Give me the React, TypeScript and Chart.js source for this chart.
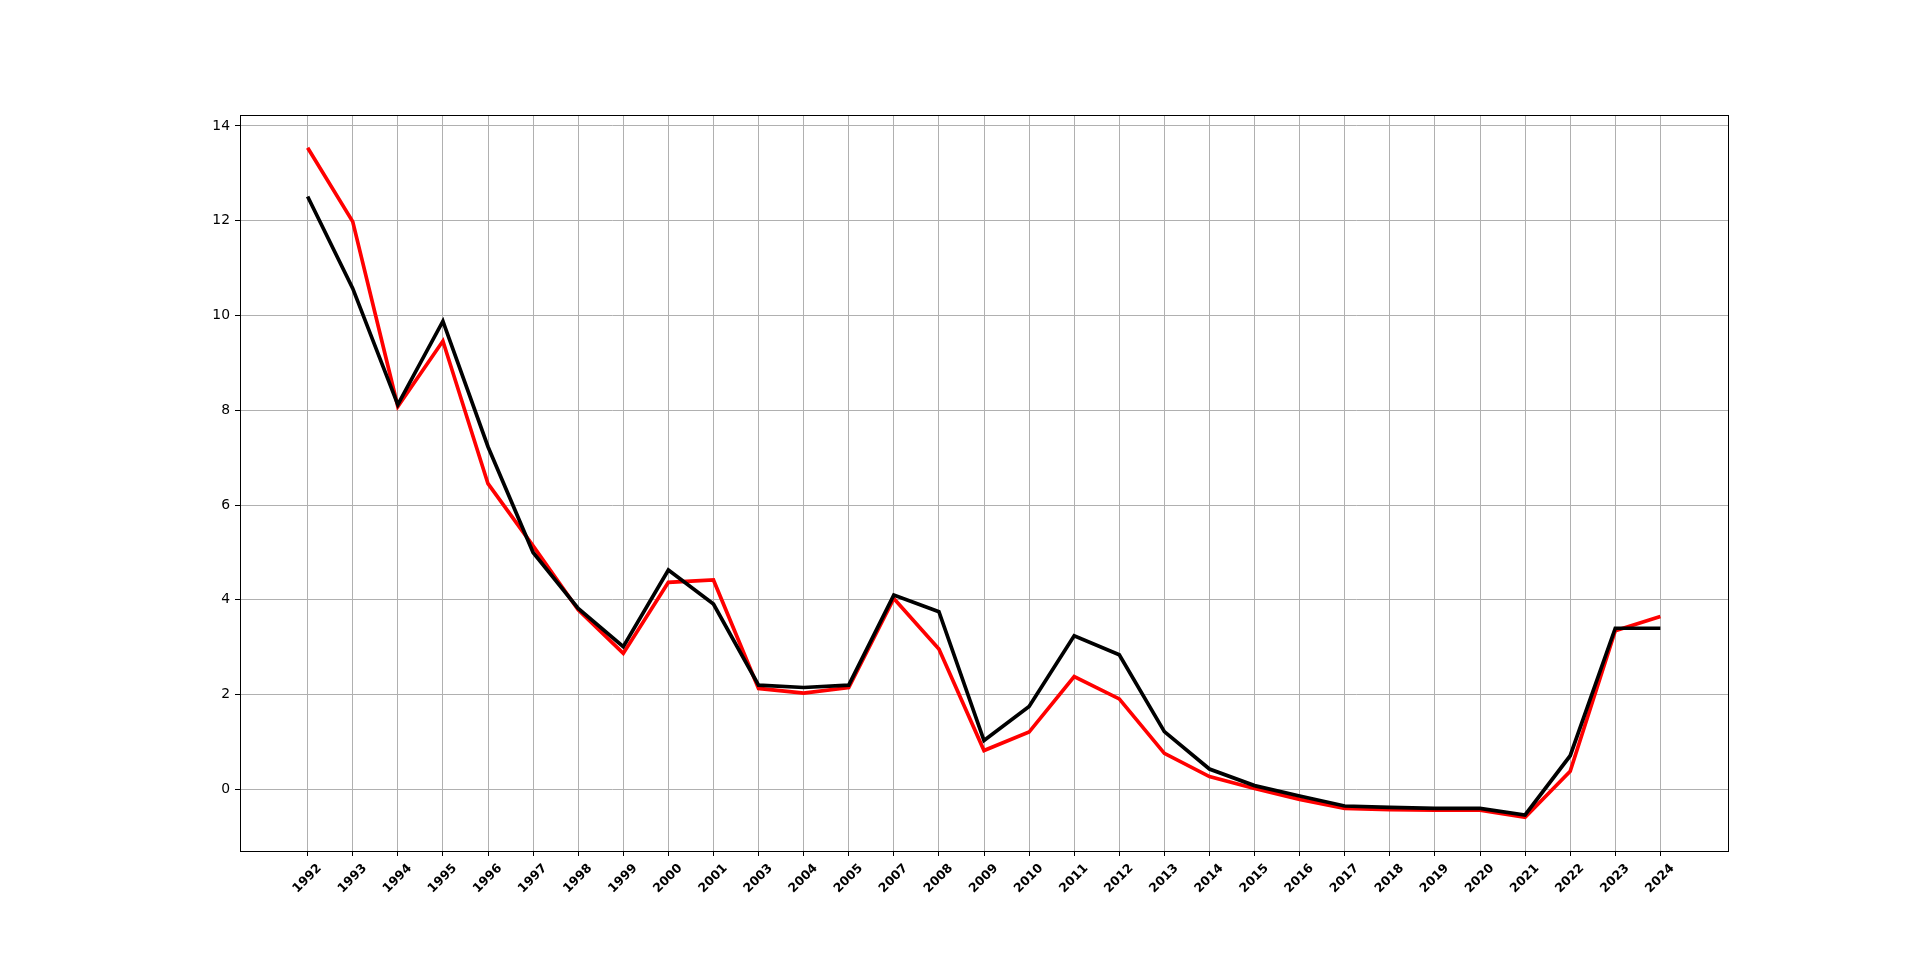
import React, { useEffect, useRef } from "react";
import { Chart, registerables } from "chart.js";

Chart.register(...registerables);

const years: string[] = [
  "1992", "1993", "1994", "1995", "1996", "1997", "1998", "1999", "2000", "2001",
  "2003", "2004", "2005", "2007", "2008", "2009", "2010", "2011", "2012", "2013",
  "2014", "2015", "2016", "2017", "2018", "2019", "2020", "2021", "2022", "2023", "2024",
];

const redSeries: number[] = [
  13.54, 11.98, 8.08, 9.46, 6.45, 5.14, 3.79, 2.87, 4.37, 4.42,
  2.13, 2.03, 2.15, 4.03, 2.96, 0.82, 1.21, 2.38, 1.91, 0.76,
  0.27, 0.02, -0.21, -0.40, -0.43, -0.44, -0.44, -0.59, 0.38, 3.35, 3.65,
];

const blackSeries: number[] = [
  12.51, 10.57, 8.12, 9.88, 7.23, 5.0, 3.82, 3.01, 4.63, 3.91,
  2.20, 2.15, 2.20, 4.10, 3.75, 1.03, 1.75, 3.24, 2.84, 1.22,
  0.43, 0.08, -0.14, -0.35, -0.38, -0.40, -0.40, -0.54, 0.71, 3.40, 3.40,
];

const yTicks: number[] = [0, 2, 4, 6, 8, 10, 12, 14];

const frame = {
  id: "frame",
  afterDraw(chart: any) {
    const { ctx, chartArea } = chart;
    ctx.save();
    ctx.strokeStyle = "#000";
    ctx.lineWidth = 1;
    ctx.strokeRect(
      Math.round(chartArea.left) + 0.5,
      Math.round(chartArea.top) + 0.5,
      Math.round(chartArea.right - chartArea.left),
      Math.round(chartArea.bottom - chartArea.top)
    );
    ctx.restore();
  },
};

export default function App() {
  const ref = useRef<HTMLCanvasElement>(null);
  useEffect(() => {
    document.body.style.margin = "0";
    const toPts = (arr: number[]) => arr.map((v, i) => ({ x: i, y: v }));
    const chart = new Chart(ref.current!, {
      type: "line",
      data: {
        datasets: [
          {
            label: "black",
            data: toPts(blackSeries),
            borderColor: "#000000",
            borderWidth: 3.7,
            pointRadius: 0,
            tension: 0,
            fill: false,
          },
          {
            label: "red",
            data: toPts(redSeries),
            borderColor: "#ff0000",
            borderWidth: 3.7,
            pointRadius: 0,
            tension: 0,
            fill: false,
          },
        ],
      },
      plugins: [frame],
      options: {
        animation: false,
        responsive: false,
        layout: { padding: { left: 200, right: 192, top: 115, bottom: 0 } },
        plugins: { legend: { display: false }, tooltip: { enabled: false } },
        scales: {
          x: {
            type: "linear",
            min: -1.5,
            max: 31.5,
            afterBuildTicks: (scale: any) => {
              scale.ticks = years.map((_, i) => ({ value: i }));
            },
            afterFit: (scale: any) => {
              scale.height = 105;
            },
            ticks: {
              autoSkip: false,
              maxRotation: 45,
              minRotation: 45,
              labelOffset: 12,
              padding: 5,
              color: "#000",
              font: { family: "DejaVu Sans", size: 12.5, weight: "bold" },
              callback: (v: any) => years[Math.round(Number(v))] ?? "",
            },
            grid: {
              color: "#b0b0b0",
              lineWidth: 1,
              tickColor: "#000",
              tickLength: 5,
            },
            border: { color: "#000", width: 1 },
          },
          y: {
            type: "linear",
            min: -1.3,
            max: 14.23,
            afterBuildTicks: (scale: any) => {
              scale.ticks = yTicks.map((v) => ({ value: v }));
            },
            afterFit: (scale: any) => {
              scale.width = 40;
            },
            ticks: {
              padding: 5,
              color: "#000",
              font: { family: "DejaVu Sans", size: 13.9 },
              callback: (v: any) => String(v),
            },
            grid: {
              color: "#b0b0b0",
              lineWidth: 1,
              tickColor: "#000",
              tickLength: 5,
            },
            border: { color: "#000", width: 1 },
          },
        },
      },
    } as any);
    return () => chart.destroy();
  }, []);
  return (
    <div style={{ width: 1920, height: 956, background: "#fff" }}>
      <canvas ref={ref} width={1920} height={956} style={{ display: "block" }} />
    </div>
  );
}
